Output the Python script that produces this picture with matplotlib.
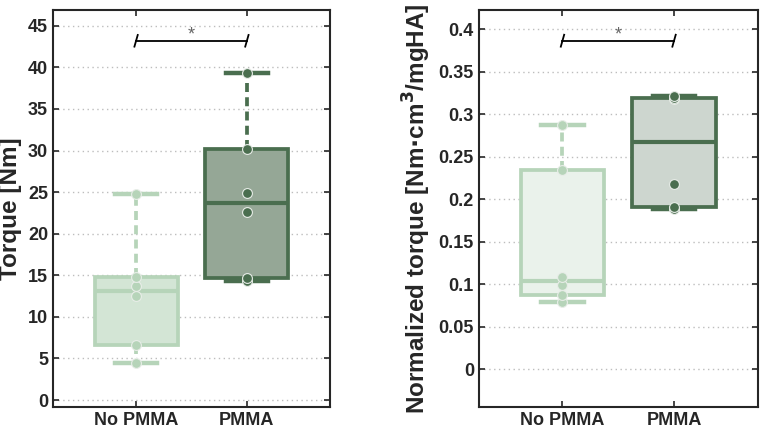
import numpy as np
import matplotlib.pyplot as plt

# valores
grupos = ['No PMMA', 'PMMA']
torque_no_pmma = [4.5, 6.6, 12.5, 13.7, 14.8, 24.8]
torque_pmma = [14.3, 14.7, 22.6, 24.9, 30.2, 39.3]
norm_no_pmma = [0.0795, 0.087, 0.099, 0.109, 0.234, 0.287]
norm_pmma = [0.189, 0.191, 0.218, 0.318, 0.319, 0.321]

ticks_torque = np.arange(0, 46, 5)
ticks_norm = np.arange(0, 0.41, 0.05)

claro = '#b6d4b9'
oscuro = '#4a6e4f'
rellenos_izq = ['#d3e5d5', '#95a796']
rellenos_der = ['#eaf2eb', '#cdd6cf']
gris = '#262626'

plt.rcParams['font.family'] = ['Liberation Sans', 'DejaVu Sans']
plt.rcParams['font.weight'] = 'bold'


def estadisticas(datos):
    d = np.array(datos)
    q1, med, q3 = np.percentile(d, [25, 50, 75], method='hazen')
    return dict(med=med, q1=q1, q3=q3, whislo=d.min(), whishi=d.max(), fliers=[])


def panel(ax, series, rellenos, ylim, yticks, etiqueta, y_barra, alto_tick):
    colores = [claro, oscuro]
    for i, datos in enumerate(series):
        pos = i + 1
        c = colores[i]
        ax.bxp([estadisticas(datos)], positions=[pos], widths=0.75, capwidths=0.38,
               patch_artist=True, showfliers=False,
               boxprops=dict(facecolor=rellenos[i], edgecolor=c, linewidth=2.7),
               medianprops=dict(color=c, linewidth=3),
               whiskerprops=dict(color=c, linewidth=2.7, linestyle=(0, (2.4, 1.4))),
               capprops=dict(color=c, linewidth=3.2))
        ax.scatter(np.full(len(datos), pos), datos, s=50, color=c,
                   edgecolors='#e8ede8', linewidths=0.8, zorder=5)

    # barra de significancia
    ax.plot([1, 2], [y_barra, y_barra], color='k', lw=1.3, zorder=6)
    for x in [1, 2]:
        ax.plot([x - 0.015, x + 0.015], [y_barra - alto_tick, y_barra + alto_tick],
                color='k', lw=1.3, zorder=6)
    ax.text(1.5, y_barra + 0.15 * alto_tick, '*', ha='center', va='baseline',
            fontsize=13, fontweight='normal', color='#666666')

    ax.set_xlim(0.25, 2.75)
    ax.set_ylim(*ylim)
    ax.set_yticks(yticks)
    ax.set_xticks([1, 2])
    ax.set_xticklabels(grupos)
    ax.set_ylabel(etiqueta, fontsize=17.5, fontweight='bold', color=gris, labelpad=4)
    ax.yaxis.grid(True, linestyle=(0, (1, 2.5)), color='#bdbdbd', lw=1)
    ax.set_axisbelow(True)
    ax.tick_params(direction='in', length=4, width=1.2, colors=gris, labelsize=13,
                   top=True, right=True)
    for s in ax.spines.values():
        s.set_color(gris)
        s.set_linewidth(1.5)


fig = plt.figure(figsize=(7.6, 4.34), dpi=100)
ax1 = fig.add_axes([0.0697, 0.0622, 0.3645, 0.9147])
ax2 = fig.add_axes([0.630, 0.0622, 0.367, 0.9147])

panel(ax1, [torque_no_pmma, torque_pmma], rellenos_izq, (-0.84, 46.9),
      ticks_torque, 'Torque [Nm]', 43.2, 0.7)
panel(ax2, [norm_no_pmma, norm_pmma], rellenos_der, (-0.0444, 0.4227),
      ticks_norm, r'Normalized torque [Nm$\cdot$cm$^{\mathbf{3}}$/mgHA]', 0.3866, 0.007)
ax2.set_yticklabels(['0', '0.05', '0.1', '0.15', '0.2', '0.25', '0.3', '0.35', '0.4'])

fig.savefig('out.png', dpi=100)
